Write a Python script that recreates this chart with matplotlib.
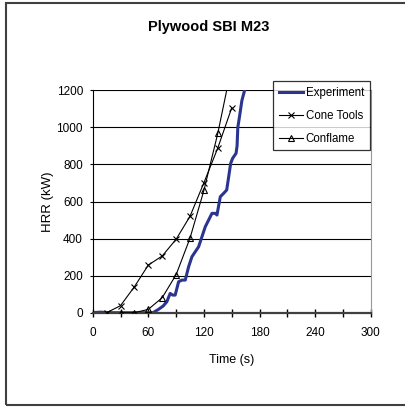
import matplotlib
matplotlib.use('Agg')
import matplotlib.pyplot as plt
from matplotlib.patches import Rectangle

plt.rcParams['font.family'] = ['Liberation Sans', 'DejaVu Sans']

# experiment curve
exp_t = [0, 8, 20, 40, 55, 65, 71, 76, 80, 83.6, 86.4, 89, 92.7, 96.3, 99.9,
         103.5, 107.1, 110.7, 114.3, 117.9, 121.5, 125.1, 128.7, 132.3, 134.1,
         137.7, 141.3, 144.6, 148.9, 151, 154.7, 155.8, 156.6, 158.5, 161, 165]
exp_hrr = [0, 3, 0, 0, 0, 0, 18, 36, 59, 104, 95, 95, 167, 176, 176,
           248, 302, 329, 356, 410, 464, 500, 536, 536, 527,
           626, 644, 662, 806, 833, 860, 900, 1000, 1060, 1145, 1220]

# Cone Tools prediction
cone_t = [15, 30, 45, 60, 75, 90, 105, 120, 135, 150]
cone_hrr = [0, 38, 140, 257, 306, 396, 520, 701, 889, 1105]

# Conflame prediction
confl_t = [30, 45, 60, 75, 90, 105, 120, 135, 150]
confl_hrr = [0, 0, 18, 81, 205, 402, 660, 968, 1330]

x_ticks = list(range(0, 301, 30))
x_labels = [str(t) if t % 60 == 0 else '' for t in x_ticks]
y_ticks = list(range(0, 1201, 200))

fig = plt.figure(figsize=(4.06, 4.07), dpi=100)
ax = fig.add_axes([92.7 / 406, 1 - 312.7 / 407, 278 / 406, 222.4 / 407])

for y in y_ticks[1:]:
    ax.axhline(y, color='black', lw=0.8, zorder=1)

ax.plot(cone_t, cone_hrr, color='black', lw=0.8, marker='x', ms=5, mew=0.8,
        label='Cone Tools', zorder=3)
ax.plot(confl_t, confl_hrr, color='black', lw=0.8, marker='^', ms=5, mew=0.8,
        mfc='none', label='Conflame', zorder=3)
ax.plot(exp_t, exp_hrr, color='#2b3590', lw=2.2, label='Experiment', zorder=2)

ax.set_xlim(0, 300)
ax.set_ylim(0, 1200)
ax.set_xticks(x_ticks)
ax.set_xticklabels(x_labels)
ax.set_yticks(y_ticks)
ax.tick_params(axis='x', direction='inout', length=6, width=1, labelsize=8.5, pad=7)
ax.tick_params(axis='y', direction='out', length=2, width=0.8, labelsize=8.5, pad=5)

ax.spines['top'].set_visible(False)
ax.spines['right'].set_color('#999999')
ax.spines['right'].set_linewidth(0.8)
ax.spines['left'].set_linewidth(0.8)
ax.spines['bottom'].set_color('#404040')
ax.spines['bottom'].set_linewidth(1.6)

ax.set_xlabel('Time (s)', fontsize=9, labelpad=11)
ax.set_ylabel('HRR (kW)', fontsize=9.5, labelpad=2)

fig.text(209 / 406, 1 - 27 / 407, 'Plywood SBI M23', fontsize=10.5, fontweight='bold',
         ha='center', va='center')

handles, labels = ax.get_legend_handles_labels()
order = [2, 0, 1]
leg = fig.legend([handles[i] for i in order], [labels[i] for i in order],
                 loc='upper left', bbox_to_anchor=(273.3 / 406, 1 - 81 / 407),
                 fontsize=8.3, frameon=True, fancybox=False, edgecolor='black',
                 handlelength=2.1, handletextpad=0.2, labelspacing=0.95,
                 borderpad=0.5, borderaxespad=0)
leg.get_frame().set_linewidth(0.9)

fig.patches.append(Rectangle((6 / 406, 2 / 407), 1.2, 1 - 5 / 407,
                             transform=fig.transFigure, fill=False,
                             edgecolor='#404040', lw=1.5))

fig.savefig('out.png', dpi=100)
